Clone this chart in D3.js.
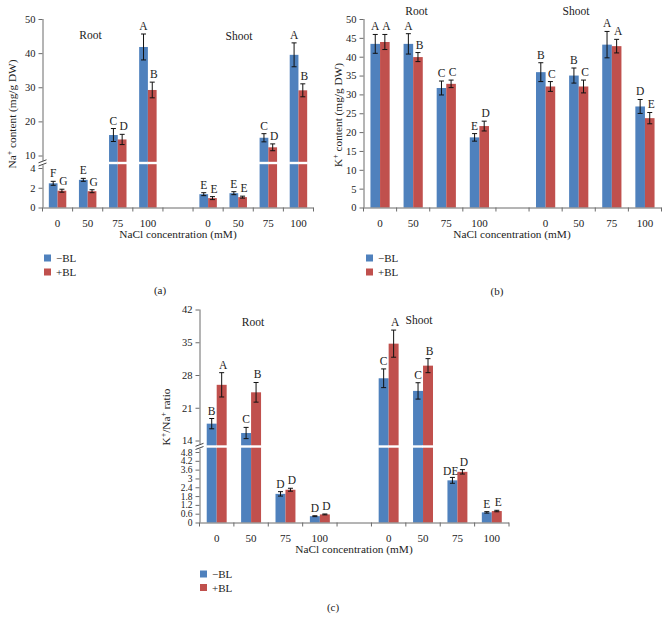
<!DOCTYPE html>
<html><head><meta charset="utf-8">
<script src="https://cdn.jsdelivr.net/npm/d3@7"></script>
<style>
body{margin:0;background:#fff}
svg{display:block}
text{font-family:"Liberation Serif","DejaVu Serif",serif;fill:#222}
</style>
</head><body><div id="chart"></div>
<script>
// ---------- DATA ----------
const categories = ["R0","R50","R75","R100","gap","S0","S50","S75","S100"];
const tickLabels = ["0","50","75","100","","0","50","75","100"];
const seriesNames = ["\u2212BL","+BL"];
const groupNames = ["Root","Shoot"];

// (a) Na+ content
const naMinus    = [2.45, 2.8, 16.0, 41.8, null, 1.35, 1.45, 15.2, 39.5];
const naMinusErr = [0.2, 0.15, 1.9, 3.8, null, 0.15, 0.15, 1.2, 3.5];
const naPlus     = [1.7, 1.65, 14.7, 29.2, null, 0.95, 1.05, 12.4, 29.1];
const naPlusErr  = [0.15, 0.15, 1.5, 2.3, null, 0.15, 0.1, 1.0, 1.9];
const naLetMinus = ["F","E","C","A",null,"E","E","C","A"];
const naLetPlus  = ["G","G","D","B",null,"E","E","D","B"];
const naTicksLow = [0,2,4];
const naTicksHigh = [10,20,30,40,50];

// (b) K+ content
const kMinus    = [43.4, 43.4, 31.7, 18.6, null, 35.9, 35.0, 43.2, 26.8];
const kMinusErr = [2.5, 2.7, 1.85, 1.0, null, 2.5, 2.0, 3.5, 1.85];
const kPlus     = [43.9, 39.9, 32.8, 21.6, null, 32.1, 32.1, 42.8, 23.7];
const kPlusErr  = [2.0, 1.2, 1.0, 1.3, null, 1.3, 1.7, 1.8, 1.5];
const kLetMinus = ["A","A","C","E",null,"B","B","A","D"];
const kLetPlus  = ["A","B","C","D",null,"C","C","A","E"];
const kTicks = [0,5,10,15,20,25,30,35,40,45,50];

// (c) K+/Na+ ratio
const ratioMinus    = [17.6, 15.6, 1.95, 0.43, null, 27.3, 24.6, 2.87, 0.69];
const ratioMinusErr = [1.1, 1.2, 0.15, 0.03, null, 2.0, 1.75, 0.2, 0.05];
const ratioPlus     = [25.9, 24.3, 2.23, 0.55, null, 34.7, 30.0, 3.45, 0.78];
const ratioPlusErr  = [2.6, 2.1, 0.1, 0.03, null, 2.9, 1.5, 0.15, 0.05];
const ratioLetMinus = ["B","C","D","D",null,"C","C","DE","E"];
const ratioLetPlus  = ["A","B","D","D",null,"A","B","D","E"];
const ratioTicksLow = [0,0.6,1.2,1.8,2.4,3,3.6,4.2,4.8];
const ratioTicksHigh = [14,21,28,35,42];

// ---------- DRAW ----------
const colors = ["#4F81BD","#C0504D"];
const axisColor = "#6b6b6b";
const svg = d3.select("#chart").append("svg").attr("width",669).attr("height",629);

function panel(o){
  const g = svg.append("g");
  const x = d3.scaleBand().domain(categories).range([o.x0, o.x1]);
  const bw = x.bandwidth();
  const barW = bw*0.29;
  let y, lo, hi;
  if (o.brk){
    lo = d3.scaleLinear().domain([0, o.brk.lowMax]).range([o.y0, o.brk.lowTop]);
    hi = d3.scaleLinear().domain([o.brk.highMin, o.max]).range([o.brk.highBottom, o.yTop]);
    y = v => v <= o.brk.lowMax ? lo(v) : hi(v);
  } else {
    lo = d3.scaleLinear().domain([0, o.max]).range([o.y0, o.yTop]);
    y = v => lo(v);
  }
  const series = [
    {vals:o.minus, err:o.minusErr, lets:o.letMinus},
    {vals:o.plus, err:o.plusErr, lets:o.letPlus}
  ];
  series.forEach((s,si)=>{
    const items = categories.map((c,i)=>({c, v:s.vals[i], e:s.err[i], l:s.lets[i]})).filter(d=>d.v!=null);
    const bx = d => x(d.c) + bw/2 - barW + si*barW;
    g.selectAll(null).data(items).enter().append("rect")
      .attr("x", bx).attr("width", barW)
      .attr("y", d=>y(d.v)).attr("height", d=>o.y0 - y(d.v))
      .attr("fill", colors[si]);
    if (o.brk){
      g.selectAll(null).data(items.filter(d=>d.v>o.brk.highMin)).enter().append("rect")
        .attr("x", d=>bx(d)-0.5).attr("width", barW+1)
        .attr("y", o.brk.y-1.2).attr("height", 2.4).attr("fill","#fff");
    }
    const cx = d => bx(d) + barW/2;
    const eb = g.selectAll(null).data(items).enter().append("g").attr("stroke","#111").attr("stroke-width",1);
    eb.append("line").attr("x1",cx).attr("x2",cx).attr("y1",d=>y(d.v-d.e)).attr("y2",d=>y(d.v+d.e));
    eb.append("line").attr("x1",d=>cx(d)-2.5).attr("x2",d=>cx(d)+2.5).attr("y1",d=>y(d.v-d.e)).attr("y2",d=>y(d.v-d.e));
    eb.append("line").attr("x1",d=>cx(d)-2.5).attr("x2",d=>cx(d)+2.5).attr("y1",d=>y(d.v+d.e)).attr("y2",d=>y(d.v+d.e));
    g.selectAll(null).data(items).enter().append("text")
      .attr("x", d=> d.l.length>1 ? cx(d)+6 : cx(d)+(si? 1.5 : 0))
      .attr("y", d=>y(d.v+d.e)-(d.l.length>1 ? 2 : 4))
      .attr("text-anchor", d=> d.l.length>1 ? "end" : "middle")
      .attr("font-size",11.5).text(d=>d.l);
  });

  // y axis
  const axG = g.append("g").attr("transform",`translate(${o.x0},0)`);
  const styleAxis = (fs) => sel => {
    sel.select(".domain").remove();
    sel.selectAll(".tick line").attr("stroke",axisColor);
    sel.selectAll(".tick text").attr("font-size",fs).attr("fill","#222")
      .style("font-family",'"Liberation Serif","DejaVu Serif",serif');
  };
  axG.append("g").call(d3.axisLeft(lo).tickValues(o.ticksLow).tickSize(4).tickPadding(3).tickFormat(d=>String(d))).call(styleAxis(o.lowTickFont||10.5));
  if (o.brk){
    axG.append("g").call(d3.axisLeft(hi).tickValues(o.ticksHigh).tickSize(4).tickPadding(3).tickFormat(d=>String(d))).call(styleAxis(10.5));
  }
  axG.append("line").attr("x1",0.5).attr("x2",0.5).attr("y1",o.y0).attr("y2",o.yTop).attr("stroke",axisColor);
  if (o.brk){
    const by = o.brk.y;
    axG.append("rect").attr("x",-4).attr("y",by-2.2).attr("width",8).attr("height",4.4).attr("fill","#fff");
    axG.append("line").attr("x1",-4).attr("x2",4).attr("y1",by-0.2).attr("y2",by-3.2).attr("stroke","#444");
    axG.append("line").attr("x1",-4).attr("x2",4).attr("y1",by+3.0).attr("y2",by+0.0).attr("stroke","#444");
  }
  // x axis
  g.append("line").attr("x1",o.x0).attr("x2",o.x1).attr("y1",o.y0+0.5).attr("y2",o.y0+0.5).attr("stroke",axisColor);
  g.selectAll(null).data(d3.range(categories.length+1)).enter().append("line")
    .attr("x1",i=>o.x0+i*bw).attr("x2",i=>o.x0+i*bw)
    .attr("y1",o.y0).attr("y2",o.y0+4).attr("stroke",axisColor);
  g.selectAll(null).data(categories).enter().append("text")
    .attr("x",c=>x(c)+bw/2).attr("y",o.y0+19).attr("text-anchor","middle").attr("font-size",11)
    .text((c,i)=>tickLabels[i]);
  g.append("text").attr("x",o.xTitle[0]).attr("y",o.xTitle[1]).attr("text-anchor","middle").attr("font-size",11.3)
    .text("NaCl concentration (mM)");
  // group names
  g.append("text").attr("x",o.root[0]).attr("y",o.root[1]).attr("text-anchor","middle").attr("font-size",11.5).text(groupNames[0]);
  g.append("text").attr("x",o.shoot[0]).attr("y",o.shoot[1]).attr("text-anchor","middle").attr("font-size",11.5).text(groupNames[1]);
  // y title
  const yt = g.append("text").attr("transform",`translate(${o.yTitle[0]},${o.yTitle[1]}) rotate(-90)`)
    .attr("text-anchor","middle").attr("font-size",11.3);
  o.yTitleParts.forEach(p=>{
    const t = yt.append("tspan").text(p[0]);
    if (p[1]) t.attr("baseline-shift","super").attr("font-size",8);
  });
  // legend
  seriesNames.forEach((n,i)=>{
    g.append("rect").attr("x",o.legend[0]).attr("y",o.legend[1]+i*o.legend[2]-3.5).attr("width",7).attr("height",7).attr("fill",colors[i]);
    g.append("text").attr("x",o.legend[0]+12).attr("y",o.legend[1]+i*o.legend[2]+4).attr("font-size",11).text(n);
  });
  g.append("text").attr("x",o.caption[0]).attr("y",o.caption[1]).attr("text-anchor","middle").attr("font-size",11).text(o.captionText);
}

panel({
  x0:42.5, x1:313.5, y0:207.5, yTop:19, max:50,
  brk:{lowMax:4, lowTop:168, highMin:10, highBottom:155.5, y:163},
  minus:naMinus, minusErr:naMinusErr, plus:naPlus, plusErr:naPlusErr,
  letMinus:naLetMinus, letPlus:naLetPlus,
  ticksLow:naTicksLow, ticksHigh:naTicksHigh,
  xTitle:[178,238], root:[90.5,39], shoot:[239,39.5],
  yTitle:[16,114], yTitleParts:[["Na"],["+",1],[" content (mg/g DW)"]],
  legend:[44,258,14], caption:[160,294], captionText:"(a)"
});
panel({
  x0:363.5, x1:661.5, y0:207.5, yTop:19, max:50,
  minus:kMinus, minusErr:kMinusErr, plus:kPlus, plusErr:kPlusErr,
  letMinus:kLetMinus, letPlus:kLetPlus,
  ticksLow:kTicks,
  xTitle:[512,238], root:[416.5,15], shoot:[576,15],
  yTitle:[342,115], yTitleParts:[["K"],["+",1],[" content (mg/g DW)"]],
  legend:[366,258,14], caption:[497,295], captionText:"(b)"
});
panel({
  x0:199.5, x1:509, y0:522.5, yTop:309.5, max:42,
  brk:{lowMax:4.8, lowTop:452, highMin:14, highBottom:440.5, y:446.5},
  minus:ratioMinus, minusErr:ratioMinusErr, plus:ratioPlus, plusErr:ratioPlusErr,
  letMinus:ratioLetMinus, letPlus:ratioLetPlus,
  ticksLow:ratioTicksLow, ticksHigh:ratioTicksHigh, lowTickFont:9.5,
  xTitle:[354,553], root:[253,326], shoot:[419,324],
  yTitle:[170,417], yTitleParts:[["K"],["+",1],["/Na"],["+",1],[" ratio"]],
  legend:[200,574,13.5], caption:[333,611], captionText:"(c)"
});
</script>
</body></html>
